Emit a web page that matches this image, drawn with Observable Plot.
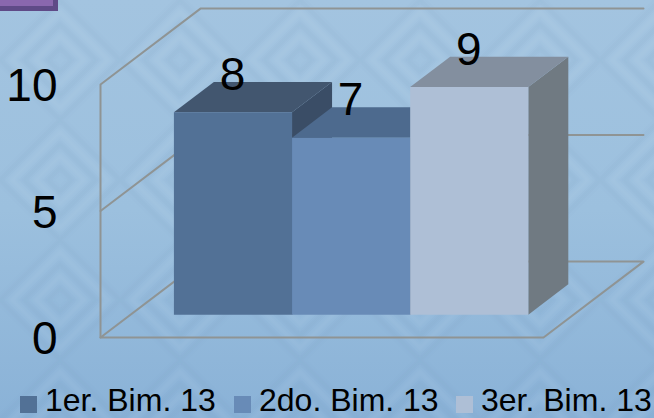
<!DOCTYPE html>
<html lang="es">
<head>
<meta charset="utf-8">
<title>Bimestres 2013</title>
<script src="https://cdn.jsdelivr.net/npm/d3@7"></script>
<script src="https://cdn.jsdelivr.net/npm/@observablehq/plot@0.6"></script>
<style>
  html, body { margin: 0; padding: 0; }
  body {
    position: relative;
    width: 654px;
    height: 418px;
    overflow: hidden;
    font-family: "Liberation Sans", Arial, sans-serif;
    background-color: #97bcdc;
    background-image:
      var(--weave),
      linear-gradient(180deg, #a3c4e0 0%, #9cc0de 50%, #8ab2d7 100%);
  }
  #corner {
    position: absolute; left: 0; top: 0;
    width: 53px; height: 6px;
    background: #8a67ae;
    border-right: 5px solid #5f4a87;
    border-bottom: 5px solid #5f4a87;
  }
  #chart { position: absolute; left: 0; top: 0; }
  #chart svg { display: block; background: transparent; }
  #legend {
    position: absolute; left: 0; top: 386px;
    width: 654px; height: 28px;
    font-size: 32px; line-height: 28px; color: #000;
  }
  #legend .entry { position: absolute; top: 0; height: 28px; white-space: nowrap; }
  #legend .swatch {
    position: absolute; left: 0; top: 10px;
    width: 17px; height: 17px;
  }
  #legend .name { display: inline-block; height: 28px; margin-left: 25px; }
</style>
</head>
<body>
<div id="corner"></div>
<div id="chart"></div>
<div id="legend"></div>
<script>
// Series of the 3D column chart
const series = ["1er. Bim. 13", "2do. Bim. 13", "3er. Bim. 13"];
const values = [8, 7, 9];
const frontColors = ["#527196", "#688bb7", "#aebfd6"];
const topColors = ["#42566f", "#4d6a8e", "#838f9f"];
const sideColors = ["#3a4d66", "#3f5878", "#707a82"];
const yTicks = [0, 5, 10];
const legendLefts = [20, 234, 456];

// Oblique projection: depth 0 is the front of the floor, depth 1 the back wall.
const depthX = 0.2257;   // in units of the floor width
const depthY = 3.0;      // in value units
const project = (x, depth, value) => ({x: x + depth * depthX, y: value + depth * depthY});

// Columns sit between these depths and fill 80% of the floor width side by side.
const barFront = 0.3, barBack = 0.7;
const barWidth = 0.8 / series.length;
const barLeft = (i) => 0.098 + i * barWidth;

const rows = series.map((name, i) => ({name, value: values[i], i}));

const face = (corners, fill) => Plot.line(
  corners.map(([x, d, v]) => project(x, d, v)),
  {x: "x", y: "y", fill, stroke: "none", curve: "linear-closed"}
);

// Cage: floor, left wall and the back-wall gridlines
const wallGrey = "#8f9494";
const cage = [
  [[0, 0, 0], [1, 0, 0], [1, 1, 0], [0, 1, 0], [0, 0, 0]],
  [[0, 0, 0], [0, 0, 10], [0, 1, 10], [1, 1, 10]],
  [[0, 0, 5], [0, 1, 5], [1, 1, 5]]
].map((path) => Plot.line(
  path.map(([x, d, v]) => project(x, d, v)),
  {x: "x", y: "y", stroke: wallGrey, strokeWidth: 2, curve: "linear"}
));

// Back faces first so each column overlaps the previous one
const columns = rows.flatMap(({value, i}) => {
  const l = barLeft(i), r = l + barWidth;
  return [
    face([[r, barFront, 0], [r, barBack, 0], [r, barBack, value], [r, barFront, value]], sideColors[i]),
    face([[l, barFront, value], [r, barFront, value], [r, barBack, value], [l, barBack, value]], topColors[i]),
    face([[l, barFront, 0], [r, barFront, 0], [r, barFront, value], [l, barFront, value]], frontColors[i])
  ];
});

const chart = Plot.plot({
  width: 654,
  height: 388,
  marginLeft: 100,
  marginRight: 111,
  marginTop: 84,
  marginBottom: 51,
  x: {domain: [0, 1], axis: null},
  y: {domain: [0, 10]},
  style: {background: "transparent", fontFamily: "'Liberation Sans', Arial, sans-serif"},
  marks: [
    ...cage,
    ...columns,
    Plot.axisY(yTicks, {
      tickSize: 0, tickPadding: 43, fontSize: 46, fill: "#000", dy: 2,
      label: null, tickFormat: (d) => String(d)
    }),
    Plot.text(rows, {
      x: (d) => project(barLeft(d.i) + barWidth / 2, barFront, d.value).x - 0.001,
      y: (d) => project(0, barFront, d.value).y,
      text: (d) => String(d.value),
      dy: -37, fontSize: 46, fill: "#000", lineAnchor: "middle", textAnchor: "middle"
    })
  ]
});
document.getElementById("chart").append(chart);

// Legend row under the plot
const legend = d3.select("#legend");
series.forEach((name, i) => {
  const entry = legend.append("div").attr("class", "entry").style("left", legendLefts[i] + "px");
  entry.append("span").attr("class", "swatch").style("background", frontColors[i]);
  entry.append("span").attr("class", "name").text(name);
});

// Woven diamond texture of the slide background
const tile = `<svg xmlns='http://www.w3.org/2000/svg' width='120' height='120'>
<filter id='b'><feGaussianBlur stdDeviation='1.6'/></filter>
<g fill='none' filter='url(#b)' stroke-width='5'>
${[60, 48, 36, 24, 12].map((r, k) => `<path d='M60 ${60 - r}L${60 + r} 60L60 ${60 + r}L${60 - r} 60Z' stroke='${k % 2 ? "#fff" : "#4f7ea9"}' stroke-opacity='${k % 2 ? 0.05 : 0.07}'/>`).join("")}
</g></svg>`;
document.body.style.setProperty("--weave", `url("data:image/svg+xml,${encodeURIComponent(tile)}")`);
</script>
</body>
</html>
